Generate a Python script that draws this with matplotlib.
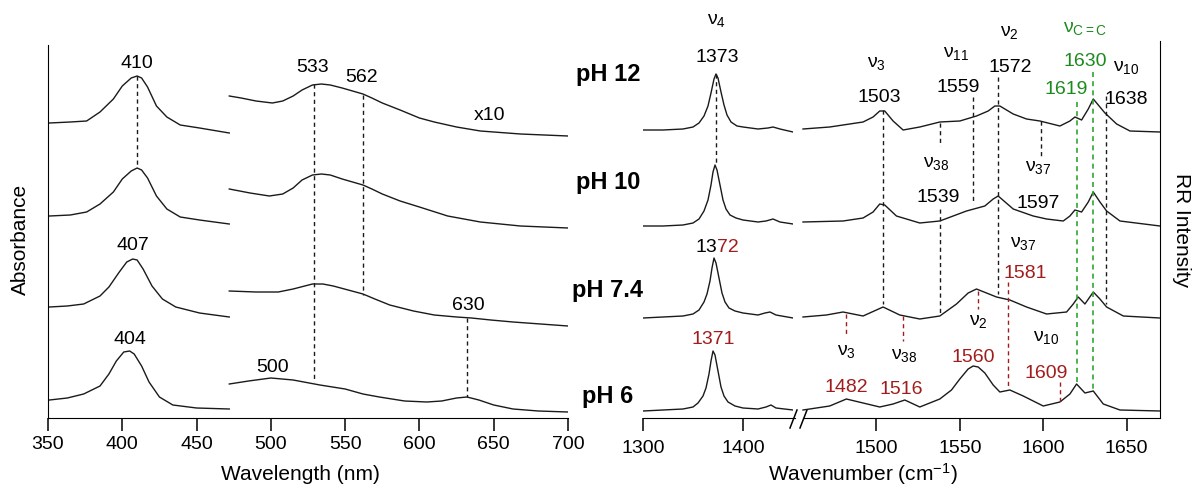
import matplotlib
matplotlib.use('Agg')
import matplotlib.pyplot as plt

plt.rcParams['font.family'] = ['Liberation Sans', 'DejaVu Sans']
plt.rcParams['mathtext.fontset'] = 'custom'
plt.rcParams['mathtext.rm'] = 'Liberation Sans'
plt.rcParams['mathtext.it'] = 'Liberation Sans:italic'

RED = '#a11d1d'
GREEN = '#1e8a1e'
LGREEN = '#2fa82f'
INK = '#1a1a1a'

# ---- UV-vis (offset heights, arbitrary units) ----
soret_nm = {
    '12': [351, 365, 376, 385, 394, 400, 406, 410, 413, 417, 423, 430, 439, 452, 472],
    '10': [351, 365, 376, 385, 394, 400, 406, 410, 413, 417, 423, 430, 439, 452, 472],
    '7.4': [351, 363, 374, 385, 391, 398, 403, 407, 410, 414, 420, 427, 436, 452, 472],
    '6': [351, 363, 374, 385, 391, 396, 401, 405, 408, 413, 418, 425, 434, 450, 472],
}
soret_abs = {
    '12': [295, 296, 297, 306, 319, 332, 340, 342, 340, 331, 312, 301, 293, 290, 285],
    '10': [202, 203, 206, 214, 226, 239, 247, 250, 248, 240, 222, 209, 201, 198, 194],
    '7.4': [111, 112, 114, 122, 131, 146, 156, 159, 158, 149, 132, 119, 111, 105, 101],
    '6': [18, 20, 24, 32, 44, 57, 66, 67, 64, 52, 36, 21, 13, 10, 9],
}
q_nm = {
    '12': [472, 480, 490, 501, 508, 515, 521, 528, 534, 540, 548, 555, 562, 568, 575, 587, 600, 610, 625, 641, 668, 700],
    '10': [472, 486, 499, 508, 515, 521, 528, 534, 540, 548, 555, 562, 568, 575, 587, 600, 619, 641, 668, 700],
    '7.4': [472, 490, 505, 515, 528, 535, 542, 552, 562, 570, 580, 596, 610, 625, 635, 648, 663, 700],
    '6': [472, 485, 500, 515, 533, 550, 562, 573, 590, 605, 615, 625, 632, 640, 650, 663, 680, 700],
}
q_abs = {
    '12': [322, 320, 317, 315, 317, 322, 328, 333, 334, 333, 330, 327, 324, 320, 315, 308, 300, 296, 291, 287, 284, 282],
    '10': [229, 225, 222, 224, 230, 238, 243, 244, 243, 239, 236, 233, 229, 224, 217, 211, 202, 196, 192, 190],
    '7.4': [127, 126, 126, 129, 134, 134, 132, 128, 124, 119, 113, 107, 103, 101, 100, 98, 96, 92],
    '6': [34, 37, 40, 38, 33, 29, 24, 21, 17, 16, 17, 20, 21, 18, 13, 9, 7, 6],
}
uv_marks = [(410, 342, 250), (529, 334, 36), (562, 323, 123), (632, 100, 21)]
uv_labels = [('410', 410, 356), ('533', 528, 351), ('562', 561, 342),
             ('x10', 647, 303), ('407', 407, 173), ('404', 405, 79),
             ('500', 501, 51), ('630', 633, 113)]

# ---- Resonance Raman ----
rr1_wn = {
    '12': [1300, 1320, 1340, 1350, 1356, 1361, 1365, 1368, 1371, 1373, 1375, 1378, 1381, 1384, 1388, 1394,
           1400, 1415, 1425, 1430, 1437, 1450],
    '10': [1300, 1320, 1340, 1350, 1356, 1361, 1365, 1368, 1370, 1372, 1374, 1377, 1380, 1383, 1387, 1393,
           1400, 1415, 1423, 1430, 1437, 1450],
    '7.4': [1300, 1320, 1340, 1350, 1356, 1361, 1364, 1367, 1369, 1371, 1373, 1376, 1379, 1382, 1386, 1392,
            1400, 1415, 1422, 1427, 1433, 1450],
    '6': [1300, 1320, 1340, 1350, 1355, 1360, 1363, 1366, 1368, 1370, 1372, 1375, 1378, 1381, 1385, 1392,
          1400, 1415, 1423, 1428, 1433, 1450],
}
rr1_int = {
    '12': [288, 288, 289, 291, 295, 302, 312, 325, 339, 344, 340, 326, 313, 303, 296, 292,
           291, 289, 290, 291, 289, 286],
    '10': [192, 192, 193, 195, 199, 207, 218, 233, 246, 253, 248, 233, 218, 209, 203, 200,
           198, 196, 197, 199, 196, 194],
    '7.4': [100, 101, 102, 104, 108, 116, 124, 137, 150, 160, 155, 140, 125, 116, 110, 107,
            105, 103, 105, 106, 103, 100],
    '6': [7, 8, 9, 11, 15, 22, 30, 44, 57, 67, 63, 47, 31, 22, 16, 12,
          10, 9, 11, 13, 10, 8],
}
rr2_wn = {
    '12': [1456, 1472, 1492, 1498, 1502, 1505, 1510, 1516, 1526, 1538, 1550, 1560, 1567, 1571, 1574, 1582,
           1590, 1598, 1610, 1616, 1619, 1623, 1627, 1630, 1634, 1637, 1644, 1652, 1670],
    '10': [1456, 1480, 1492, 1498, 1502, 1505, 1512, 1526, 1538, 1554, 1565, 1570, 1573, 1582, 1594, 1602,
           1612, 1616, 1619, 1623, 1627, 1630, 1634, 1638, 1646, 1670],
    '7.4': [1456, 1470, 1480, 1492, 1504, 1514, 1526, 1538, 1548, 1555, 1560, 1566, 1572, 1580, 1590, 1602,
            1614, 1618, 1621, 1625, 1630, 1634, 1638, 1648, 1670],
    '6': [1456, 1472, 1482, 1492, 1502, 1510, 1517, 1526, 1538, 1545, 1550, 1555, 1558, 1561, 1565, 1570,
          1574, 1580, 1588, 1600, 1610, 1616, 1620, 1625, 1630, 1636, 1646, 1670],
}
rr2_int = {
    '12': [289, 291, 296, 301, 307, 307, 297, 288, 291, 296, 297, 302, 307, 312, 312, 304,
           299, 297, 292, 297, 301, 298, 309, 319, 311, 305, 294, 287, 286],
    '10': [196, 197, 200, 206, 214, 213, 202, 195, 197, 207, 212, 219, 222, 209, 202, 199,
           197, 202, 208, 206, 216, 226, 216, 207, 197, 192],
    '7.4': [101, 103, 106, 102, 111, 103, 99, 102, 114, 125, 129, 125, 121, 118, 111, 104,
            106, 114, 121, 114, 126, 119, 111, 102, 100],
    '6': [8, 12, 19, 15, 11, 14, 18, 11, 19, 28, 39, 49, 52, 51, 45, 33,
          26, 28, 22, 12, 16, 24, 34, 25, 27, 14, 8, 7],
}
rr_black = [(1504, 308, 114), (1538, 295, 272), (1538, 209, 103), (1558, 321, 214),
            (1573, 341, 124), (1598.5, 297, 259), (1637.6, 322, 114)]
rr_green = [(1620, 316, 36), (1629.6, 346, 27)]
rr_red = [(1482, 104, 82), (1516, 102, 77), (1561, 127, 109), (1579, 136, 29), (1610, 36, 16)]

def nu(sub):
    return r'$\mathregular{ν_{%s}}$' % sub

fig = plt.figure(figsize=(11.92, 4.85), dpi=100)
W, H = 1192, 485
bot, top = 419, 42

def place(x0, x1):
    return [x0 / W, (H - bot) / H, (x1 - x0) / W, (bot - top) / H]

ax = fig.add_axes(place(48, 568))
for k in soret_nm:
    ax.plot(soret_nm[k], soret_abs[k], color=INK, lw=1.0)
    ax.plot(q_nm[k], q_abs[k], color=INK, lw=1.0)
for x, y0, y1 in uv_marks:
    ax.plot([x, x], [y0, y1], color=INK, lw=1.0, ls=(0, (3, 2.5)))
for s, x, y in uv_labels:
    ax.text(x, y, s, fontsize=14, ha='center', va='center', color='black')
ax.set_xlim(350, 700)
ax.set_ylim(0, bot - top)
ax.set_xticks(range(350, 701, 50))
ax.set_yticks([])
for s in ['top', 'right']:
    ax.spines[s].set_visible(False)
ax.spines['left'].set_bounds(0, 373)
ax.tick_params(axis='x', length=9, width=1.1, labelsize=14, pad=3)
ax.set_xlabel('Wavelength (nm)', fontsize=15)
ax.xaxis.set_label_coords(0.485, -0.122)
ax.set_ylabel('Absorbance', fontsize=15)
ax.yaxis.set_label_coords(-0.035, 0.475)
ax.patch.set_alpha(0)

r1 = fig.add_axes(place(643, 793))
r2 = fig.add_axes(place(793, 1160))
for k in rr1_wn:
    r1.plot(rr1_wn[k], rr1_int[k], color=INK, lw=1.0)
    r2.plot(rr2_wn[k], rr2_int[k], color=INK, lw=1.0)
r1.plot([1373, 1373], [344, 253], color=INK, lw=1.0, ls=(0, (3, 2.5)))
for x, y0, y1 in rr_black:
    r2.plot([x, x], [y0, y1], color=INK, lw=1.0, ls=(0, (3, 2.5)))
for x, y0, y1 in rr_green:
    r2.plot([x, x], [y0, y1], color=LGREEN, lw=1.2, ls=(0, (3, 2.5)))
for x, y0, y1 in rr_red:
    r2.plot([x, x], [y0, y1], color=RED, lw=1.0, ls=(0, (3, 2.5)))

for a, lo, hi, ticks in [(r1, 1300, 1450, [1300, 1400]), (r2, 1450, 1670, [1500, 1550, 1600, 1650])]:
    a.set_xlim(lo, hi)
    a.set_ylim(0, bot - top)
    a.set_xticks(ticks)
    a.set_yticks([])
    a.tick_params(axis='x', length=9, width=1.1, labelsize=14, pad=6)
    a.spines['top'].set_visible(False)
    a.spines['left'].set_visible(False)
    a.patch.set_alpha(0)
r1.spines['right'].set_visible(False)
r1.spines['bottom'].set_bounds(1300, 1452)
r2.spines['bottom'].set_bounds(1456, 1670)
# axis break marks
for dx in (0, 10):
    r1.plot([1447 + dx, 1454 + dx], [-10, 8], color='black', lw=1.1, clip_on=False)

# Raman annotations
r1.text(1374, 399, nu('4'), fontsize=14, ha='center', va='center')
r1.text(1374, 362, '1373', fontsize=14, ha='center', va='center')
r1.text(1374, 172, '13', fontsize=14, ha='right', va='center')
r1.text(1374, 172, '72', fontsize=14, ha='left', va='center', color=RED)
r1.text(1370, 79, '1371', fontsize=14, ha='center', va='center', color=RED)

rr_text = [
    (nu('3'), 1500, 356, 'black'), ('1503', 1502, 322, 'black'),
    (nu('11'), 1548, 366, 'black'), ('1559', 1549, 332, 'black'),
    (nu('2'), 1580, 387, 'black'), ('1572', 1580, 352, 'black'),
    (nu('C=C'), 1625, 391, GREEN), ('1630', 1625, 357, GREEN),
    (nu('10'), 1650, 352, 'black'), ('1619', 1614, 329, GREEN),
    ('1638', 1650, 319, 'black'),
    (nu('38'), 1536, 256, 'black'), ('1539', 1537, 222, 'black'),
    (nu('37'), 1597, 252, 'black'), ('1597', 1597, 216, 'black'),
    (nu('37'), 1588, 176, 'black'), ('1581', 1589, 146, RED),
    (nu('3'), 1482, 67, 'black'), ('1482', 1482, 31, RED),
    (nu('38'), 1517, 64, 'black'), ('1516', 1515, 29, RED),
    (nu('2'), 1561, 97, 'black'), ('1560', 1558, 62, RED),
    (nu('10'), 1602, 81, 'black'), ('1609', 1602, 46, RED),
]
for s, x, y, c in rr_text:
    r2.text(x, y, s, fontsize=14, ha='center', va='center', color=c)

ph_labels = ['pH 12', 'pH 10', 'pH 7.4', 'pH 6']
for s, py in zip(ph_labels, [75, 182, 290, 397]):
    fig.text(608 / W, 1 - py / H, s, fontsize=17, fontweight='bold', ha='center', va='center')

fig.text(863 / W, 1 - 461 / H, r'Wavenumber (cm$\mathregular{^{-1}}$)', fontsize=15, ha='center', va='top')
fig.text(1182 / W, 1 - 230 / H, 'RR Intensity', fontsize=15, rotation=270, ha='center', va='center')

fig.savefig('out.png', dpi=100)
